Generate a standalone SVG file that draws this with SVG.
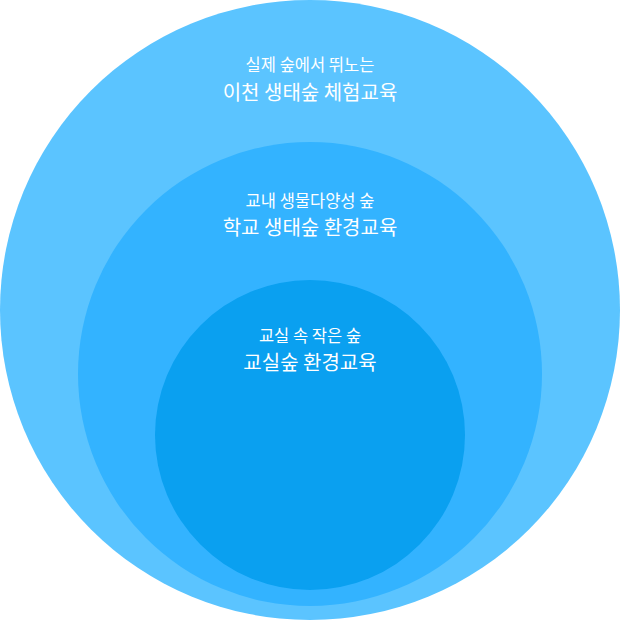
<svg xmlns="http://www.w3.org/2000/svg" width="620" height="620" viewBox="0 0 620 620">
<style>
text{font-family:"Noto Sans CJK KR","Noto Sans",sans-serif;fill:#fff;text-anchor:middle}
.s{font-size:16.5px}
.l{font-size:20px}
</style>
<g id="outer"><circle cx="310" cy="310" r="310" fill="#5BC4FF"/>
<text class="s" x="310" y="70.5">실제 숲에서 뛰노는</text>
<text class="l" x="310" y="99.5">이천 생태숲 체험교육</text></g>
<g id="middle"><circle cx="310" cy="374" r="232" fill="#33B3FF"/>
<text class="s" x="310" y="207">교내 생물다양성 숲</text>
<text class="l" x="310" y="235">학교 생태숲 환경교육</text></g>
<g id="inner"><circle cx="310" cy="435" r="155" fill="#0AA0F0"/>
<text class="s" x="310" y="341.5">교실 속 작은 숲</text>
<text class="l" x="310" y="370">교실숲 환경교육</text></g>
<g id="connectors"/>
</svg>
